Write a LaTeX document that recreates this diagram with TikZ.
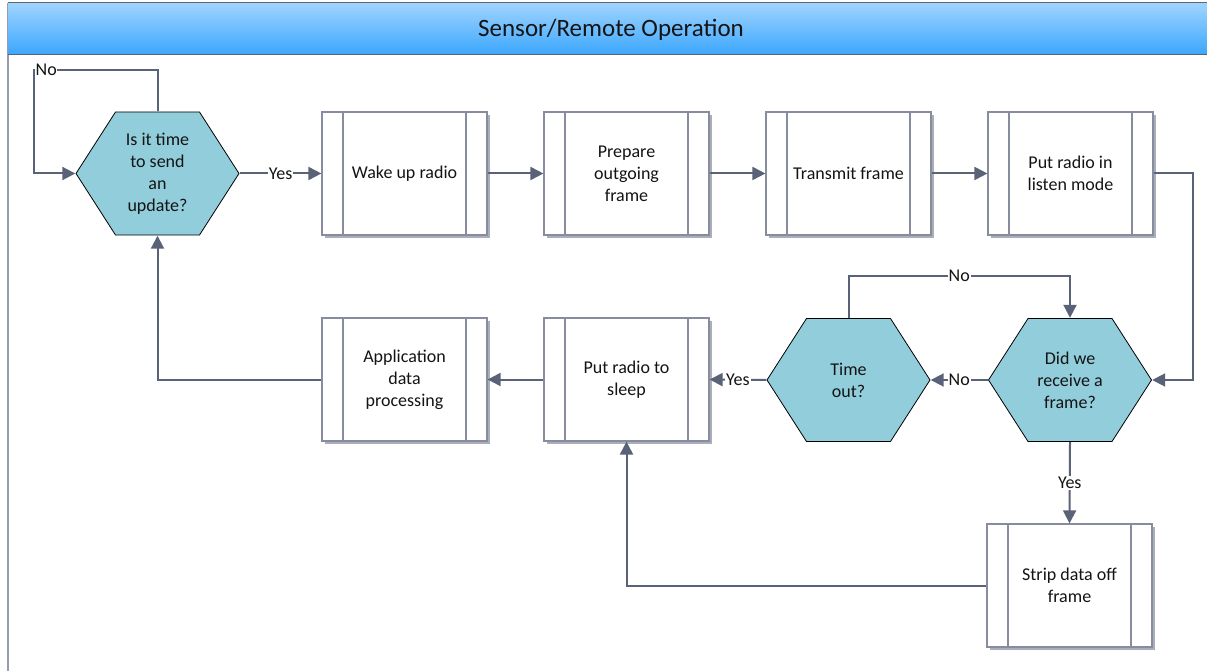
\documentclass[tikz,border=0pt]{standalone}
\usepackage{fontspec}
\setmainfont{Carlito}
\usetikzlibrary{arrows.meta,shadows,calc}
\definecolor{hexcol}{RGB}{146,205,220}
\definecolor{conncol}{RGB}{90,98,120}
\definecolor{boxline}{RGB}{135,140,158}
\definecolor{shadowcol}{RGB}{170,174,184}
\definecolor{txt}{RGB}{20,20,20}
\definecolor{bartop}{RGB}{160,212,255}
\definecolor{barbot}{RGB}{58,166,253}
\definecolor{framecol}{RGB}{150,156,172}
\begin{document}
\begin{tikzpicture}[x=1pt,y=-1pt,
 every node/.style={text=txt, font=\fontsize{18}{22}\selectfont},
 hexa/.style={minimum width=164pt, minimum height=124pt, inner sep=0pt, align=center,
   path picture={\draw[fill=hexcol, draw=black, line width=0.8pt]
     ([xshift=0.5pt]path picture bounding box.west) -- ([xshift=40pt,yshift=-0.5pt]path picture bounding box.north west) -- ([xshift=-40pt,yshift=-0.5pt]path picture bounding box.north east) -- ([xshift=-0.5pt]path picture bounding box.east) -- ([xshift=-40pt,yshift=0.5pt]path picture bounding box.south east) -- ([xshift=40pt,yshift=0.5pt]path picture bounding box.south west) -- cycle;}},
 proc/.style={draw=boxline, line width=1.2pt, fill=white, minimum width=165pt, minimum height=123pt, inner sep=0pt, align=center,
   drop shadow={shadow xshift=3pt, shadow yshift=-3pt, fill=shadowcol, opacity=1},
   path picture={\draw[boxline, line width=1.2pt] ([xshift=21pt]path picture bounding box.north west) -- ([xshift=21pt]path picture bounding box.south west) ([xshift=-21pt]path picture bounding box.north east) -- ([xshift=-21pt]path picture bounding box.south east);}},
 conn/.style={draw=conncol, line width=2pt, -{Triangle[length=13pt,width=13pt]}},
 lbl/.style={fill=white, inner sep=1pt}
]
\useasboundingbox (0,0) rectangle (1207,671);
% frame and title bar
\draw[framecol, line width=2pt] (8,3) -- (8,675);
\shade[top color=bartop, bottom color=barbot] (8,3) rectangle (1212,55);
\draw[draw=gray!80!black, line width=1pt] (8,3) -- (1212,3);
\draw[draw=conncol, line width=1pt] (8,55) -- (1212,55);
\node[font=\fontsize{25}{30}\selectfont, anchor=base] (title) at (611,36.5) {Sensor/Remote Operation};

% nodes
\node[hexa] (h1) at (157.5,173.5) {Is it time\\to send\\an\\update?};
\node[proc] (b1) at (404.5,173.5) {Wake up radio};
\node[proc] (b2) at (626.5,173.5) {Prepare\\outgoing\\frame};
\node[proc] (b3) at (848.5,173.5) {Transmit frame};
\node[proc] (b4) at (1070.5,173.5) {Put radio in\\listen mode};
\node[hexa] (h3) at (1070,380) {Did we\\receive a\\frame?};
\node[hexa] (h2) at (848.5,380) {Time\\out?};
\node[proc] (b6) at (626.5,379.5) {Put radio to\\sleep};
\node[proc] (b5) at (404.5,379.5) {Application\\data\\processing};
\node[proc] (b7) at (1069.5,585.5) {Strip data off\\frame};

% connectors
\coordinate (c1) at (34,70);
\coordinate (c2) at (1070,276);
\coordinate (c3) at (1193,173.5);
\draw[conn] (h1.north) |- (c1) |- (h1.west);
\node[lbl, anchor=west, inner sep=0.5pt] (lno) at (35,70) {No};
\draw[conn] (h1.east) -- node[lbl] (lyes1) {Yes} (b1.west);
\draw[conn] (b1.east) -- (b2.west);
\draw[conn] (b2.east) -- (b3.west);
\draw[conn] (b3.east) -- (b4.west);
\draw[conn] (b4.east) -- (c3) |- (h3.east);
\draw[conn] (h3.west) -- node[lbl] (lno2) {No} (h2.east);
\draw[conn] (h2.north) |- node[lbl, pos=0.75] (lno3) {No} (c2) -- (h3.north);
\draw[conn] (h2.west) -- node[lbl] (lyes2) {Yes} (b6.east);
\draw[conn] (h3.south) -- node[lbl] (lyes3) {Yes} (b7.north);
\draw[conn] (b7.west) -| (b6.south);
\draw[conn] (b6.west) -- (b5.east);
\draw[conn] (b5.west) -| (h1.south);
\end{tikzpicture}
\end{document}
